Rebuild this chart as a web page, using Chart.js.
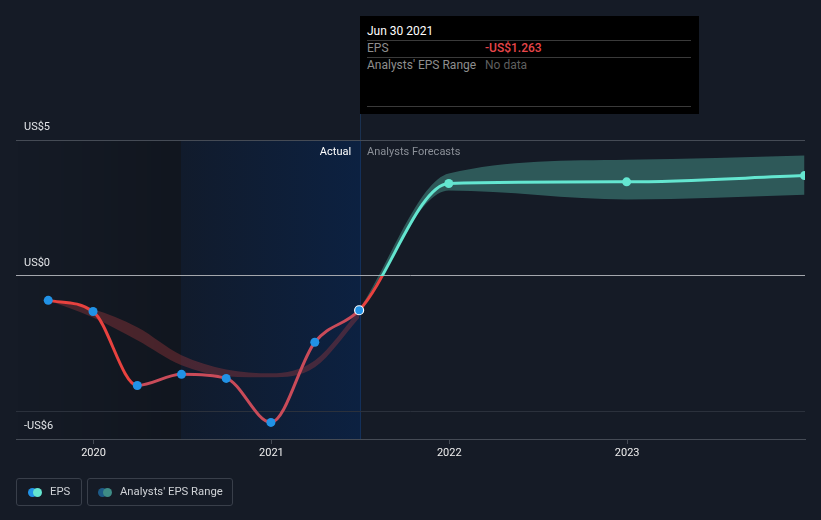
<!DOCTYPE html>
<html>
<head>
<meta charset="utf-8">
<script src="https://cdn.jsdelivr.net/npm/chart.js@4.4.0/dist/chart.umd.min.js"></script>
<style>
  html, body { margin: 0; padding: 0; background: #151b26; }
  #wrap { position: relative; width: 821px; height: 520px; font-family: Roboto, "Noto Sans", sans-serif; overflow: hidden; }
  #c { position: absolute; left: 0; top: 0; }
  #tip { position: absolute; left: 360px; top: 16px; width: 339px; height: 98px; background: #000; }
  #tip .t { position: absolute; left: 7px; top: 7px; font-size: 12px; color: #fff; line-height: 16px; }
  #tip .ln { position: absolute; left: 7px; width: 324px; height: 1px; background: #3a3a3a; }
  #tip .lab { position: absolute; left: 7px; font-size: 12px; color: #8e8e8e; line-height: 16px; }
  #tip .val { position: absolute; left: 125px; font-size: 12px; line-height: 16px; }
  .lg { position: absolute; top: 478px; height: 28px; border: 1px solid #393f4a; border-radius: 3px; box-sizing: border-box; }
  .lg .dot { position: absolute; top: 9px; width: 9px; height: 9px; border-radius: 50%; }
  .lg .txt { position: absolute; top: 5px; font-size: 11.3px; color: #cfd2d6; line-height: 16px; white-space: nowrap; }
</style>
</head>
<body>
<div id="wrap">
  <canvas id="c" width="821" height="520"></canvas>
  <div id="tip">
    <div class="t">Jun 30 2021</div>
    <div class="ln" style="top:24px"></div>
    <div class="lab" style="top:24px">EPS</div>
    <div class="val" style="top:24px;color:#e8464a;font-weight:500">-US$1.263</div>
    <div class="ln" style="top:41px"></div>
    <div class="lab" style="top:41px">Analysts' EPS Range</div>
    <div class="val" style="top:41px;color:#5f5f5f">No data</div>
    <div class="ln" style="top:90px"></div>
  </div>
  <div class="lg" style="left:16px;width:66px">
    <div class="dot" style="left:11px;background:#2192e6"></div>
    <div class="dot" style="left:16px;background:#64e6d0"></div>
    <div class="txt" style="left:33px">EPS</div>
  </div>
  <div class="lg" style="left:87px;width:146px">
    <div class="dot" style="left:10px;background:#1d5a86"></div>
    <div class="dot" style="left:15px;background:#3e8c86"></div>
    <div class="txt" style="left:32px">Analysts' EPS Range</div>
  </div>
</div>
<script>
// ---- data ----
const epsDates = ['2019-09-30','2019-12-31','2020-03-31','2020-06-30','2020-09-30','2020-12-31','2021-03-31','2021-06-30','2021-12-31','2022-12-31','2023-12-31'];
const epsValues = [-0.90, -1.31, -4.03, -3.62, -3.77, -5.39, -2.44, -1.263, 3.40, 3.46, 3.69];
const actualCount = 8;

const pastRangeDates = ['2019-09-30','2019-12-31','2020-03-31','2020-06-30','2020-09-30','2020-12-31','2021-03-31','2021-06-30'];
const pastRangeHigh = [-0.90, -1.23, -1.89, -2.92, -3.44, -3.58, -3.11, -1.263];
const pastRangeLow  = [-0.90, -1.53, -2.37, -3.29, -3.69, -3.73, -3.36, -1.55];

const forecastRangeDates = ['2021-06-30','2021-12-31','2022-12-31','2023-12-31'];
const forecastRangeHigh = [-1.263, 3.77, 4.27, 4.43];
const forecastRangeLow  = [-1.263, 3.14, 2.81, 2.99];

const yTickValues = [-6, -5, 0, 5];
const yTickLabels = { '-6': '-US$6', '0': 'US$0', '5': 'US$5' };
const xTickYears = [2020, 2021, 2022, 2023];
const nowDate = '2021-06-30';

// ---- helpers ----
function toYear(s) {
  const [y, m, d] = s.split('-').map(Number);
  const start = Date.UTC(y, 0, 1), end = Date.UTC(y + 1, 0, 1);
  return y + (Date.UTC(y, m - 1, d) - start) / (end - start);
}
const nowX = toYear(nowDate);
const regionStart = nowX - 1;
const pts = (dates, vals) => dates.map((d, i) => ({ x: toYear(d), y: vals[i] }));

const RED = '#e8423f', RED_DIM = '#c94b59', TEAL = '#64e6d0', BLUE = '#2192e6';

const regionsPlugin = {
  id: 'regions',
  beforeDraw(chart) {
    const { ctx, chartArea: a, scales: { x } } = chart;
    const xs = Math.round(x.getPixelForValue(regionStart)), xn = Math.round(x.getPixelForValue(nowX)) + 2;
    ctx.save();
    let g = ctx.createLinearGradient(a.left, 0, xs, 0);
    g.addColorStop(0, 'rgba(0,0,0,0)');
    g.addColorStop(1, 'rgba(0,0,0,0.18)');
    ctx.fillStyle = g;
    ctx.fillRect(a.left, a.top, xs - a.left, a.bottom - a.top);
    g = ctx.createLinearGradient(xs, 0, xn, 0);
    g.addColorStop(0, '#111b2c');
    g.addColorStop(1, '#0c2141');
    ctx.fillStyle = g;
    ctx.fillRect(xs, a.top, xn - xs, a.bottom - a.top);
    ctx.fillStyle = '#13305a';
    ctx.fillRect(xn - 1, a.top, 1, a.bottom - a.top);
    ctx.fillStyle = '#1a3150';
    ctx.fillRect(xn - 1, 114, 1, a.top - 114);
    ctx.restore();
  },
  afterDraw(chart) {
    const { ctx, chartArea: a, scales: { x } } = chart;
    const xn = x.getPixelForValue(nowX) + 1;
    ctx.save();
    ctx.font = '11px Roboto, sans-serif';
    ctx.textBaseline = 'middle';
    ctx.textAlign = 'right';
    ctx.fillStyle = '#ffffff';
    ctx.fillText('Actual', xn - 9, a.top + 12);
    ctx.textAlign = 'left';
    ctx.fillStyle = '#8b9098';
    ctx.fillText('Analysts Forecasts', xn + 7, a.top + 12);
    ctx.restore();
  }
};

function lineGradient(ctx) {
  const chart = ctx.chart;
  const { chartArea: a, scales } = chart;
  if (!a || !scales.y) return RED;
  const z = scales.y.getPixelForValue(0);
  const f = Math.min(1, Math.max(0, (z - a.top) / (a.bottom - a.top)));
  const g = chart.ctx.createLinearGradient(0, a.top, 0, a.bottom);
  g.addColorStop(0, TEAL);
  g.addColorStop(f, TEAL);
  g.addColorStop(f, RED);
  g.addColorStop(1, RED);
  return g;
}

const epsPoints = pts(epsDates, epsValues);

new Chart(document.getElementById('c'), {
  type: 'line',
  data: {
    datasets: [
      {
        label: 'EPS',
        data: epsPoints,
        order: 0,
        borderWidth: 3,
        borderColor: lineGradient,
        cubicInterpolationMode: 'monotone',
        fill: false,
        pointRadius: 4.5,
        pointBackgroundColor: epsValues.map((v, i) => i < actualCount ? BLUE : TEAL),
        pointBorderColor: epsValues.map((v, i) => i === actualCount - 1 ? '#ffffff' : (i < actualCount ? BLUE : TEAL)),
        pointBorderWidth: epsValues.map((v, i) => i === actualCount - 1 ? 1.2 : 0),
        segment: {
          borderColor: (c) => {
            const x1 = c.p1.parsed.x, y0 = c.p0.parsed.y, y1 = c.p1.parsed.y;
            if (x1 <= regionStart + 1e-6) return RED;
            if (x1 <= nowX + 1e-6) return RED_DIM;
            if (y0 < 0 && y1 > 0) return undefined;
            return y1 >= 0 ? TEAL : RED;
          }
        }
      },
      {
        label: 'pastHigh', data: pts(pastRangeDates, pastRangeHigh), order: 2,
        borderWidth: 0, borderColor: 'rgba(0,0,0,0)', pointRadius: 0,
        cubicInterpolationMode: 'monotone', fill: '+1', backgroundColor: 'rgba(176,60,63,0.35)'
      },
      {
        label: 'pastLow', data: pts(pastRangeDates, pastRangeLow), order: 3,
        borderWidth: 0, borderColor: 'rgba(0,0,0,0)', pointRadius: 0,
        cubicInterpolationMode: 'monotone', fill: false
      },
      {
        label: 'fcHigh', data: pts(forecastRangeDates, forecastRangeHigh), order: 2,
        borderWidth: 0, borderColor: 'rgba(0,0,0,0)', pointRadius: 0,
        cubicInterpolationMode: 'monotone', fill: '+1', backgroundColor: 'rgba(100,220,200,0.32)'
      },
      {
        label: 'fcLow', data: pts(forecastRangeDates, forecastRangeLow), order: 3,
        borderWidth: 0, borderColor: 'rgba(0,0,0,0)', pointRadius: 0,
        cubicInterpolationMode: 'monotone', fill: false
      }
    ]
  },
  options: {
    responsive: false,
    animation: false,
    devicePixelRatio: 1,
    events: [],
    layout: { padding: { left: 16, right: 16, top: 140, bottom: 51 } },
    plugins: { legend: { display: false }, tooltip: { enabled: false } },
    scales: {
      x: {
        type: 'linear',
        min: 2019.564,
        max: 2024.0,
        afterBuildTicks: (s) => { s.ticks = xTickYears.map(v => ({ value: v })); },
        afterFit: (s) => { s.height = 30; },
        grid: { drawOnChartArea: false, drawTicks: true, tickLength: 5, color: '#454b55' },
        border: { display: true, color: '#454b55', width: 1 },
        ticks: {
          color: '#eeeeee', padding: 3,
          font: { family: 'Roboto', size: 11 },
          maxRotation: 0,
          callback: (v) => String(v)
        }
      },
      y: {
        type: 'linear',
        min: -6,
        max: 5,
        afterBuildTicks: (s) => { s.ticks = yTickValues.map(v => ({ value: v })); },
        afterFit: (s) => { s.width = 0; },
        border: { display: false },
        grid: {
          drawTicks: false,
          lineWidth: 1,
          color: (c) => {
            const v = c.tick && c.tick.value;
            if (v === 0) return '#a4a7ad';
            if (v === -5) return '#2b313c';
            return '#454b55';
          }
        },
        ticks: {
          mirror: true, padding: 8, labelOffset: -12.5,
          color: '#e2e4e7',
          font: { family: 'Roboto', size: 11 },
          callback: (v) => yTickLabels[String(v)] || ''
        }
      }
    }
  },
  plugins: [regionsPlugin]
});
</script>
</body>
</html>
